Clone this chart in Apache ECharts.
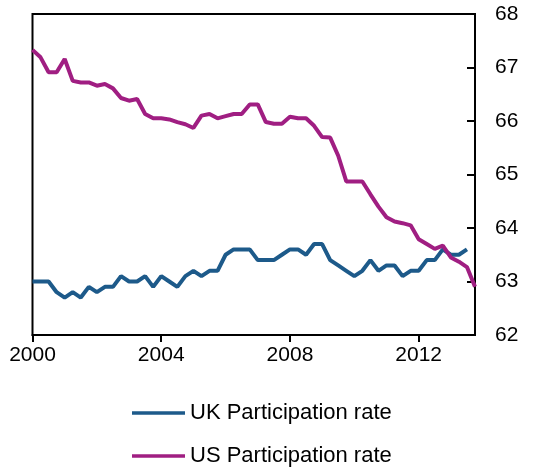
<!DOCTYPE html>
<html>
<head>
<meta charset="utf-8">
<script src="https://cdn.jsdelivr.net/npm/echarts@6/dist/echarts.min.js"></script>
<style>
html,body{margin:0;padding:0;background:#fff;}
#chart{width:543px;height:473px;}
</style>
</head>
<body>
<div id="chart"></div>
<script>
const categories = [
'2000Q1','2000Q2','2000Q3','2000Q4','2001Q1','2001Q2','2001Q3','2001Q4',
'2002Q1','2002Q2','2002Q3','2002Q4','2003Q1','2003Q2','2003Q3','2003Q4',
'2004Q1','2004Q2','2004Q3','2004Q4','2005Q1','2005Q2','2005Q3','2005Q4',
'2006Q1','2006Q2','2006Q3','2006Q4','2007Q1','2007Q2','2007Q3','2007Q4',
'2008Q1','2008Q2','2008Q3','2008Q4','2009Q1','2009Q2','2009Q3','2009Q4',
'2010Q1','2010Q2','2010Q3','2010Q4','2011Q1','2011Q2','2011Q3','2011Q4',
'2012Q1','2012Q2','2012Q3','2012Q4','2013Q1','2013Q2','2013Q3','2013Q4'
];
const tickLabels = ['2000','2004','2008','2012'];
const ukRate = [
63.0,63.0,63.0,62.8,62.7,62.8,62.7,62.9,62.8,62.9,62.9,63.1,63.0,63.0,63.1,62.9,
63.1,63.0,62.9,63.1,63.2,63.1,63.2,63.2,63.5,63.6,63.6,63.6,63.4,63.4,63.4,63.5,
63.6,63.6,63.5,63.7,63.7,63.4,63.3,63.2,63.1,63.2,63.4,63.2,63.3,63.3,63.1,63.2,
63.2,63.4,63.4,63.6,63.5,63.5,63.6
];
const usRate = [
67.33,67.19,66.91,66.91,67.16,66.75,66.72,66.72,66.66,66.69,66.61,66.43,66.38,66.41,66.13,66.05,
66.05,66.03,65.98,65.94,65.87,66.10,66.13,66.05,66.09,66.13,66.13,66.31,66.31,65.98,65.95,65.95,
66.08,66.05,66.05,65.91,65.70,65.69,65.35,64.87,64.87,64.87,64.63,64.40,64.20,64.12,64.09,64.05,
63.79,63.70,63.61,63.67,63.45,63.37,63.27,62.90
];
const yTicks = {min: 62, max: 68, interval: 1};
const seriesNames = ['UK Participation rate', 'US Participation rate'];
const seriesColors = ['#1D5A8A', '#A01E82'];

function isTick(idx, val) {
  return tickLabels.indexOf(String(val).slice(0,4)) >= 0 && String(val).slice(4) === 'Q1';
}

const FONT = 'Liberation Sans, Arial, sans-serif';
function legendFor(name, top) {
  return {
    orient: 'vertical', left: 132, top: top, padding: 0,
    itemWidth: 53, itemHeight: 3.5, icon: 'rect', itemGap: 5,
    textStyle: {fontSize: 22, color: '#000', fontFamily: FONT},
    data: [name]
  };
}

const chart = echarts.init(document.getElementById('chart'), null, {renderer: 'canvas'});
chart.setOption({
  animation: false,
  backgroundColor: '#fff',
  textStyle: {fontFamily: FONT},
  grid: {left: 32.5, right: 68, top: 14, bottom: 138, show: true, borderColor: '#000', borderWidth: 2},
  legend: [legendFor(seriesNames[0], 402), legendFor(seriesNames[1], 445)],
  xAxis: {
    type: 'category', data: categories, boundaryGap: false,
    axisLine: {show: true, lineStyle: {color: '#000', width: 2}},
    axisTick: {show: true, inside: false, length: 7, lineStyle: {color: '#000', width: 2}, interval: isTick},
    axisLabel: {
      interval: isTick, fontSize: 21, color: '#000', margin: 10,
      formatter: v => v.slice(0,4)
    },
    splitLine: {show: false}
  },
  yAxis: {
    type: 'value', position: 'right', min: yTicks.min, max: yTicks.max, interval: yTicks.interval,
    axisLine: {show: true, lineStyle: {color: '#000', width: 2}},
    axisTick: {show: true, inside: true, length: 8, lineStyle: {color: '#000', width: 2}},
    axisLabel: {fontSize: 21, color: '#000', margin: 20},
    splitLine: {show: false}
  },
  series: [
    {name: seriesNames[0], type: 'line', data: ukRate, showSymbol: false, symbol: 'none',
     lineStyle: {color: seriesColors[0], width: 4}, itemStyle: {color: seriesColors[0]}},
    {name: seriesNames[1], type: 'line', data: usRate, showSymbol: false, symbol: 'none',
     lineStyle: {color: seriesColors[1], width: 4}, itemStyle: {color: seriesColors[1]}}
  ]
});
</script>
</body>
</html>
